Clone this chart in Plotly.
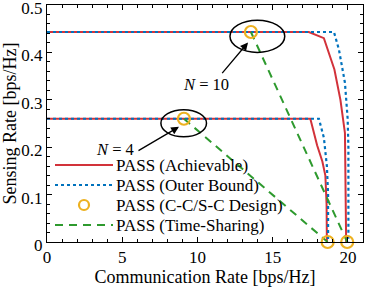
import plotly.graph_objects as go

# ---- data ----
ach10_x = [0, 17.4, 18.4, 19.1, 19.5, 19.8, 19.88]
ach10_y = [0.443, 0.443, 0.43, 0.364, 0.30, 0.23, 0]
out10_x = [0, 19.07, 19.4, 19.8, 19.98, 20.03, 20.03]
out10_y = [0.443, 0.443, 0.406, 0.336, 0.26, 0.2, 0]
ach4_x = [0, 17.5, 17.95, 18.3, 18.5, 18.58, 18.6]
ach4_y = [0.26, 0.26, 0.204, 0.17, 0.14, 0.08, 0]
out4_x = [0, 18.07, 18.4, 18.6, 18.68, 18.68]
out4_y = [0.26, 0.26, 0.22, 0.16, 0.1, 0]
design_x = [9.1, 18.65, 13.55, 19.95]
design_y = [0.26, 0, 0.443, 0]
ts4_x = [9.1, 18.65]
ts4_y = [0.26, 0]
ts10_x = [13.55, 19.95]
ts10_y = [0.443, 0]
legend_labels = ["PASS (Achievable)", "PASS (Outer Bound)", "PASS (C-C/S-C Design)", "PASS (Time-Sharing)"]

RED = "#D2323A"
BLUE = "#0072BD"
ORANGE = "#EDB120"
GREEN = "#2E9A2E"
FONT = "Liberation Serif"

fig = go.Figure()
for xs, ys in [(ach10_x, ach10_y), (ach4_x, ach4_y)]:
    fig.add_trace(go.Scatter(x=xs, y=ys, mode="lines", line=dict(color=RED, width=2),
                             showlegend=False, cliponaxis=False))
for xs, ys in [(out10_x, out10_y), (out4_x, out4_y)]:
    fig.add_trace(go.Scatter(x=xs, y=ys, mode="lines", line=dict(color=BLUE, width=2.2, dash="dot"),
                             showlegend=False, cliponaxis=False))
for xs, ys in [(ts4_x, ts4_y), (ts10_x, ts10_y)]:
    fig.add_trace(go.Scatter(x=xs, y=ys, mode="lines", line=dict(color=GREEN, width=2, dash="8px,6px"),
                             showlegend=False, cliponaxis=False))
fig.add_trace(go.Scatter(x=design_x, y=design_y, mode="markers",
                         marker=dict(symbol="circle-open", size=12, color=ORANGE, line=dict(width=2.2, color=ORANGE)),
                         showlegend=False, cliponaxis=False))

# layout geometry (pixels)
L, R, T, B = 47, 3, 5, 48
W, H = 366, 290
pw, ph = W - L - R, H - T - B

def px(xp):
    return (xp - L) / pw

def py(yp):
    return (H - B - yp) / ph

shapes = []
annotations = []
# ellipses
shapes.append(dict(type="circle", xref="x", yref="y", x0=12.16, x1=15.8, y0=0.40, y1=0.468,
                   line=dict(color="black", width=1.5)))
shapes.append(dict(type="circle", xref="x", yref="y", x0=7.57, x1=10.6, y0=0.222, y1=0.279,
                   line=dict(color="black", width=1.5)))
# arrows
annotations.append(dict(x=13.36, y=0.421, ax=11.56, ay=0.353, xref="x", yref="y", axref="x", ayref="y",
                        text="", showarrow=True, arrowhead=2, arrowsize=1.2, arrowwidth=1.3, arrowcolor="black"))
annotations.append(dict(x=8.77, y=0.243, ax=5.98, ay=0.191, xref="x", yref="y", axref="x", ayref="y",
                        text="", showarrow=True, arrowhead=2, arrowsize=1.2, arrowwidth=1.3, arrowcolor="black"))
annotations.append(dict(x=10.56, y=0.332, xref="x", yref="y", text="<i>N</i> = 10", showarrow=False,
                        font=dict(family=FONT, size=16.5, color="black")))
annotations.append(dict(x=4.55, y=0.196, xref="x", yref="y", text="<i>N</i> = 4", showarrow=False,
                        font=dict(family=FONT, size=16.5, color="black")))

# manual legend
rows = [165, 185, 205, 225]
lx0, lx1, tx = 55, 113, 114
shapes.append(dict(type="line", xref="paper", yref="paper", x0=px(lx0), x1=px(lx1), y0=py(rows[0]), y1=py(rows[0]),
                   line=dict(color=RED, width=2)))
shapes.append(dict(type="line", xref="paper", yref="paper", x0=px(lx0), x1=px(lx1), y0=py(rows[1]), y1=py(rows[1]),
                   line=dict(color=BLUE, width=2.2, dash="dot")))
shapes.append(dict(type="circle", xref="paper", yref="paper", xsizemode="pixel", ysizemode="pixel",
                   xanchor=px((lx0 + lx1) / 2), yanchor=py(rows[2]), x0=-5, x1=5, y0=-5, y1=5,
                   line=dict(color=ORANGE, width=2.2)))
shapes.append(dict(type="line", xref="paper", yref="paper", x0=px(lx0), x1=px(lx1), y0=py(rows[3]), y1=py(rows[3]),
                   line=dict(color=GREEN, width=2, dash="8px,6px")))
for r, lab in zip(rows, legend_labels):
    annotations.append(dict(x=px(tx), y=py(r), xref="paper", yref="paper", text=lab, showarrow=False,
                            xanchor="left", yanchor="middle", font=dict(family=FONT, size=17, color="black")))

axis_common = dict(showline=True, linecolor="black", linewidth=1, mirror="ticks", ticks="inside",
                   ticklen=5, tickcolor="black", showgrid=False, zeroline=False, automargin=False,
                   ticklabeloverflow="allow",
                   tickfont=dict(family=FONT, size=17, color="black"))

fig.update_layout(
    width=W, height=H,
    margin=dict(l=L, r=R, t=T, b=B),
    paper_bgcolor="white", plot_bgcolor="white",
    showlegend=False,
    shapes=shapes, annotations=annotations,
    xaxis=dict(range=[0, 21], tickvals=[0, 5, 10, 15, 20],
               minor=dict(ticks="inside", dtick=1, ticklen=3, tickcolor="black"),
               title=dict(text="Communication Rate [bps/Hz]", font=dict(family=FONT, size=18, color="black"), standoff=2),
               **axis_common),
    yaxis=dict(range=[0, 0.5], tickvals=[0, 0.1, 0.2, 0.3, 0.4, 0.5], ticktext=["0", "0.1", "0.2", "0.3", "0.4", "0.5"],
               minor=dict(ticks="inside", dtick=0.02, ticklen=3, tickcolor="black"),
               ticklabelshift=3,
               title=dict(text="Sensing Rate [bps/Hz]", font=dict(family=FONT, size=18, color="black"), standoff=2),
               **axis_common),
)

fig.write_html("out.html", config={"displayModeBar": False},
               post_script="document.body.style.margin='0';")
